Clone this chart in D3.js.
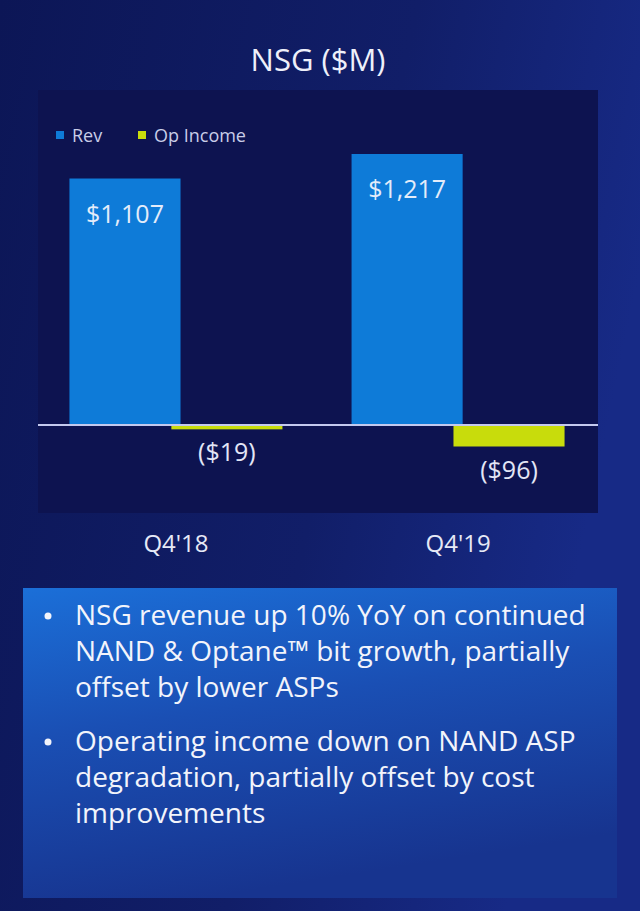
<!DOCTYPE html>
<html><head><meta charset="utf-8">
<script src="https://cdn.jsdelivr.net/npm/d3@7"></script>
<style>
html,body{margin:0;padding:0;background:#0f1a5e;}
svg{display:block;}
text{font-family:"Open Sans","Noto Sans",sans-serif;}
</style></head>
<body>
<script>
const title = "NSG ($M)";
const categories = ["Q4'18", "Q4'19"];
const seriesNames = ["Rev", "Op Income"];
const revValues = [1107, 1217];
const opValues = [-19, -96];
const valueLabels = [["$1,107", "$1,217"], ["($19)", "($96)"]];
const bullets = [
  ["NSG revenue up 10% YoY on continued", "NAND & Optane\u2122 bit growth, partially", "offset by lower ASPs"],
  ["Operating income down on NAND ASP", "degradation, partially offset by cost", "improvements"]
];

const W = 640, H = 911;
const svg = d3.select("body").append("svg").attr("width", W).attr("height", H);
const defs = svg.append("defs");

const bg = defs.append("linearGradient").attr("id","bg").attr("x1","0").attr("y1","0").attr("x2","1").attr("y2","0.3");
bg.append("stop").attr("offset","0").attr("stop-color","#0c1656");
bg.append("stop").attr("offset","0.6").attr("stop-color","#111e68");
bg.append("stop").attr("offset","1").attr("stop-color","#172a86");
svg.append("rect").attr("width",W).attr("height",H).attr("fill","url(#bg)");

// chart panel
svg.append("rect").attr("x",38).attr("y",90).attr("width",560).attr("height",423).attr("fill","#0d1350");

// title
svg.append("text").attr("x",318).attr("y",71).attr("text-anchor","middle")
  .attr("fill","#eef0fa").attr("font-size",31).text(title);

const colors = ["#0e7bd8", "#c8dc0c"];

// legend
const legX = [56, 138];
seriesNames.forEach((n,i)=>{
  svg.append("rect").attr("x",legX[i]).attr("y",131).attr("width",8).attr("height",8).attr("fill",colors[i]);
  svg.append("text").attr("x",legX[i]+16).attr("y",142).attr("fill","#c9cde8").attr("font-size",18).text(n);
});

// scales
const x0 = d3.scaleBand().domain(categories).range([37, 597]).paddingInner(0.245).paddingOuter(0.115);
const x1 = d3.scaleBand().domain(seriesNames).range([0, x0.bandwidth()]).paddingInner(-0.09);
const y = d3.scaleLinear().domain([-96, 1217]).range([446.5, 154]);

const series = [revValues, opValues];
const g = svg.append("g");
series.forEach((vals, si) => {
  g.selectAll(null).data(vals).enter().append("rect")
    .attr("x",(d,i)=> x0(categories[i]) + x1(seriesNames[si]))
    .attr("width", x1.bandwidth())
    .attr("y", d => y(Math.max(0,d)))
    .attr("height", d => Math.abs(y(d)-y(0)))
    .attr("fill", colors[si]);
});

// baseline
svg.append("line").attr("x1",38).attr("x2",598).attr("y1",y(0)).attr("y2",y(0))
  .attr("stroke","#c3c9ee").attr("stroke-width",2);

// value labels
revValues.forEach((v,i)=>{
  svg.append("text").attr("x", x0(categories[i]) + x1(seriesNames[0]) + x1.bandwidth()/2)
    .attr("y", y(v)+44).attr("text-anchor","middle").attr("fill","#e3ecfa").attr("font-size",25)
    .text(valueLabels[0][i]);
});
opValues.forEach((v,i)=>{
  svg.append("text").attr("x", x0(categories[i]) + x1(seriesNames[1]) + x1.bandwidth()/2)
    .attr("y", y(v)+32).attr("text-anchor","middle").attr("fill","#e3e6f6").attr("font-size",25)
    .text(valueLabels[1][i]);
});

// category axis labels
const xAxis = d3.axisBottom(x0).tickSize(0).tickPadding(0);
const ax = svg.append("g").attr("transform","translate(0,535)").call(xAxis);
ax.select(".domain").remove();
ax.selectAll("text").attr("fill","#e6e9f6").attr("font-size",24)
  .attr("font-family","'Open Sans','Noto Sans',sans-serif").attr("dy","0.71em");

// bullet box
const bx = defs.append("linearGradient").attr("id","box").attr("x1","0").attr("y1","0").attr("x2","0.3").attr("y2","1");
bx.append("stop").attr("offset","0").attr("stop-color","#1b6fd8");
bx.append("stop").attr("offset","0.45").attr("stop-color","#1a4fb4");
bx.append("stop").attr("offset","1").attr("stop-color","#17348f");
svg.append("rect").attr("x",23).attr("y",588).attr("width",594).attr("height",310).attr("fill","url(#box)");

const lineH = 36;
const startY = [625, 751];
bullets.forEach((lines, bi)=>{
  svg.append("circle").attr("cx",48).attr("cy",startY[bi]-9).attr("r",3.5).attr("fill","#f2f4fb");
  lines.forEach((t,li)=>{
    svg.append("text").attr("x",75).attr("y",startY[bi]+li*lineH)
      .attr("fill","#f2f4fb").attr("font-size",28).text(t);
  });
});
</script>
</body></html>
